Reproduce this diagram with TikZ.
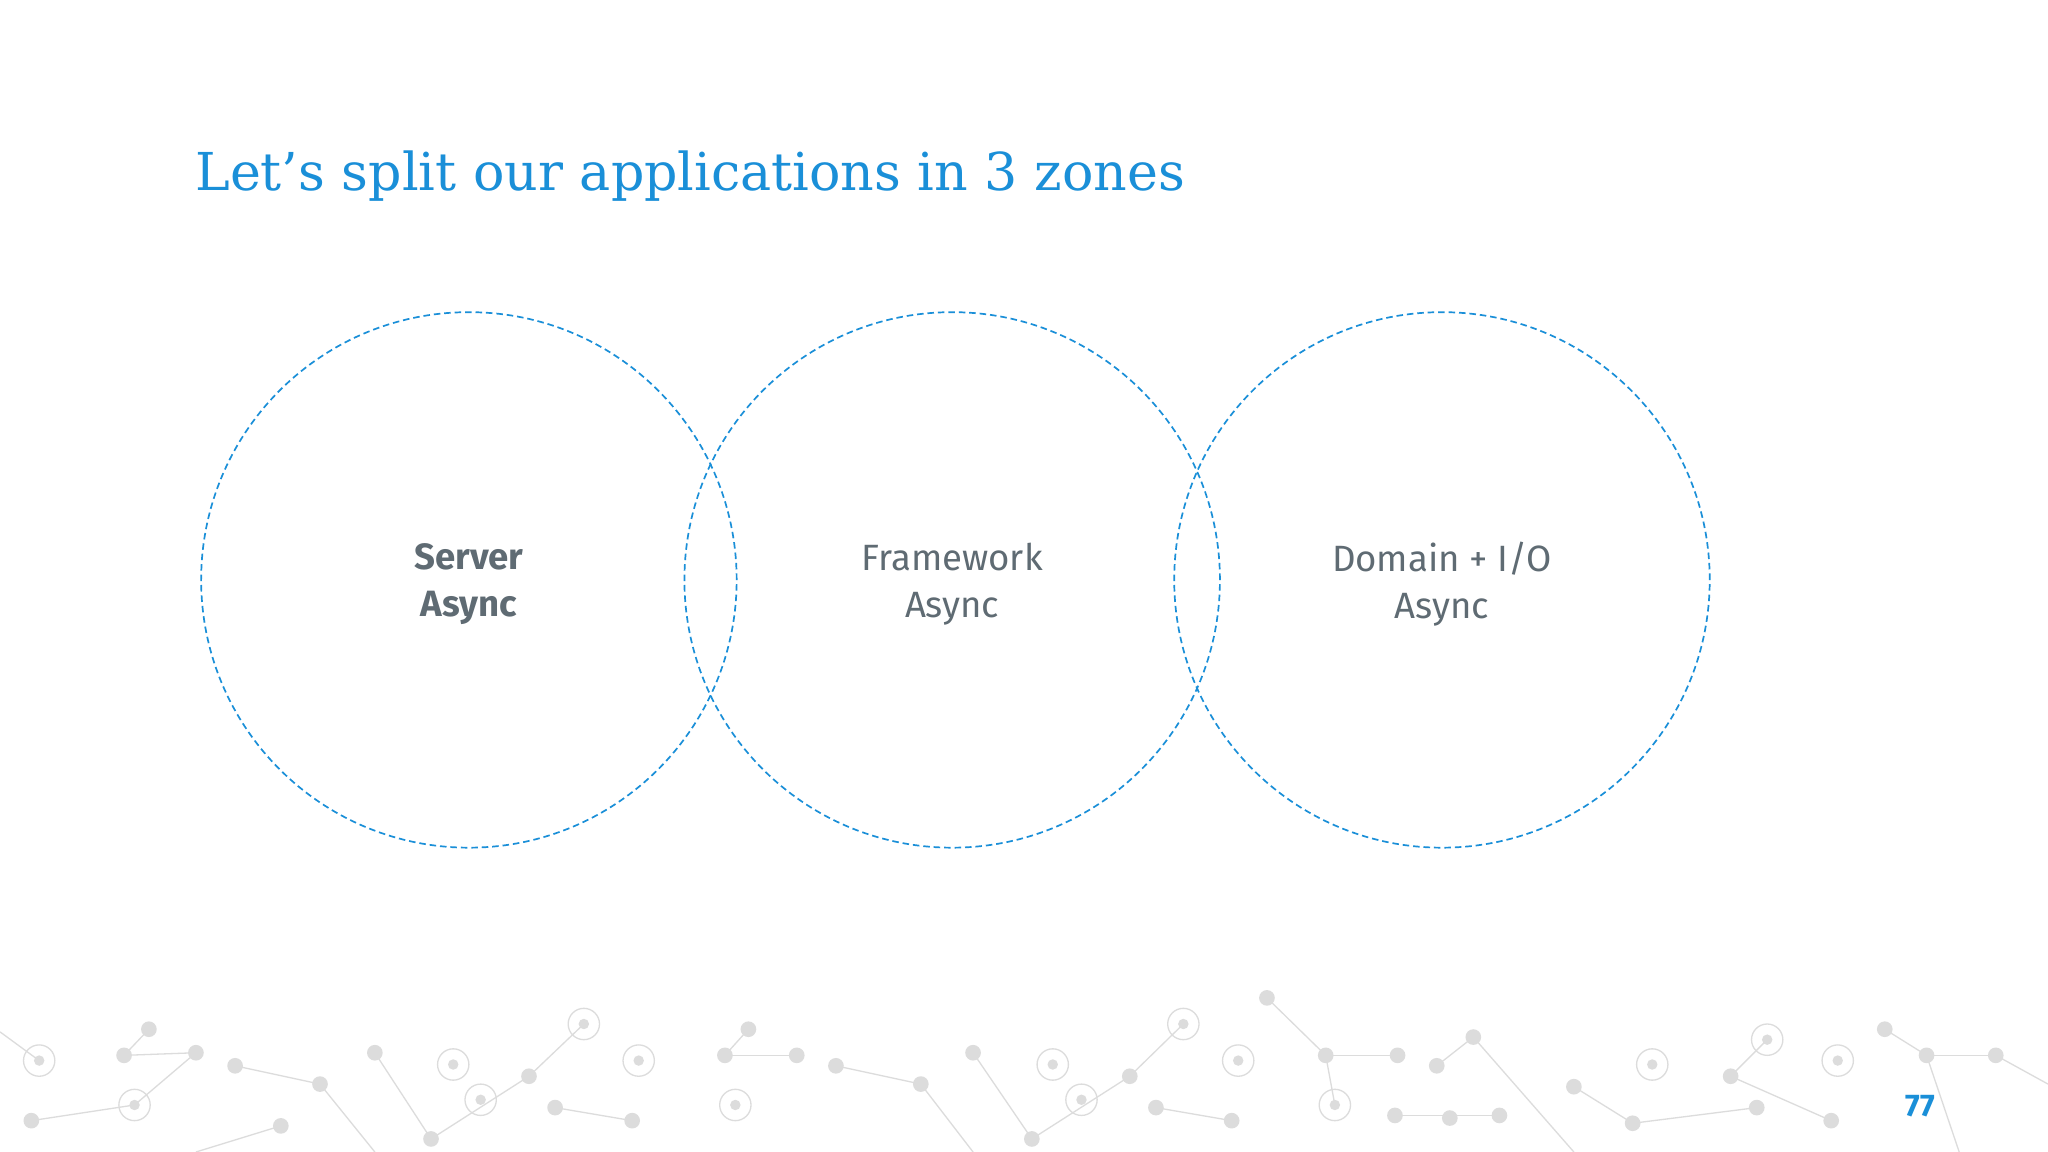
\documentclass[tikz,border=0pt]{standalone}
\usepackage{fontspec}
\setmainfont{Fira Sans}
\newfontfamily\titlefont{DejaVu Serif}
\definecolor{tblue}{HTML}{1A8FD8}
\definecolor{tgrey}{HTML}{5F6B73}
\definecolor{dgrey}{HTML}{DCDCDC}
\begin{document}
\begin{tikzpicture}[x=1pt,y=-1pt,
  zone/.style={draw=tblue,line width=1.3pt,dash pattern=on 5pt off 3pt},
  lbl/.style={text=tgrey,font=\fontsize{28}{36}\selectfont,align=center},
  dot/.style={fill=dgrey,draw=none},
  link/.style={draw=dgrey,line width=1pt}]
\fill[white] (0,0) rectangle (1568,882);
\useasboundingbox (0,0) rectangle (1568,882);
% background network
\foreach \a/\b in {95/808,114/788,150/806,180/816,245/830,287/806,330/872,405/824,425/848,484/858,555/808,573/788,610/808,640/816,705/830,745/806,790/872,865/824,885/848,943/858,1015/808,1070/808,1100/816,1128/794,1148/854,1205/832,1250/860,1325/824,1345/848,1402/858,1443/788,1475/808,1528/808,24/858,215/862,970/764,1110/856,1068/854}{
  \fill[dot] (\a,\b) circle (6);}
\foreach \a/\b in {30/812,103/846,347/815,368/842,447/784,489/812,563/846,806/815,828/842,906/784,948/812,1022/846,1265/815,1353/796,1407/812}{
  \draw[link] (\a,\b) circle (12); \fill[dot] (\a,\b) circle (4);}
\foreach \a/\b/\c/\d in {95/808/150/806, 114/788/95/808, 180/816/245/830, 245/830/287/882, 287/806/330/872, 330/872/405/824, 405/824/447/784, 425/848/484/858, 555/808/610/808, 573/788/555/808, 640/816/705/830, 705/830/745/882, 745/806/790/872, 790/872/865/824, 865/824/906/784, 885/848/943/858, 970/764/1015/808, 1015/808/1070/808, 1015/808/1022/846, 1100/816/1128/794, 1068/854/1148/854, 1128/794/1205/882, 1205/832/1250/860, 1250/860/1345/848, 1325/824/1353/796, 1325/824/1402/858, 1443/788/1475/808, 1475/808/1528/808, 1475/808/1500/882, 24/858/103/846, 103/846/150/806, 150/882/215/862, 0/790/30/812, 1528/808/1568/830}{
  \draw[link] (\a,\b) -- (\c,\d);}
% title
\node[anchor=west,text=tblue,font=\titlefont\fontsize{40}{48}\selectfont] (title) at (146,135) {Let’s split our applications in 3 zones};
% circles
\node[zone,circle,minimum size=410pt,inner sep=0pt] (c1) at (359,444) {};
\node[zone,circle,minimum size=410pt,inner sep=0pt] (c2) at (729,444) {};
\node[zone,circle,minimum size=410pt,inner sep=0pt] (c3) at (1104,444) {};
\node[lbl,font=\fontsize{28}{36}\selectfont\bfseries] (t1) at ([yshift=-3pt]c1) {Server\\Async};
\node[lbl] (t2) at ([yshift=-3pt]c2) {Framework\\Async};
\node[lbl] (t3) at ([yshift=-3pt]c3) {Domain + I/O\\Async};
\node[text=tblue,font=\bfseries\fontsize{24}{28}\selectfont] (pg) at (1470,847) {77};
\end{tikzpicture}
\end{document}
